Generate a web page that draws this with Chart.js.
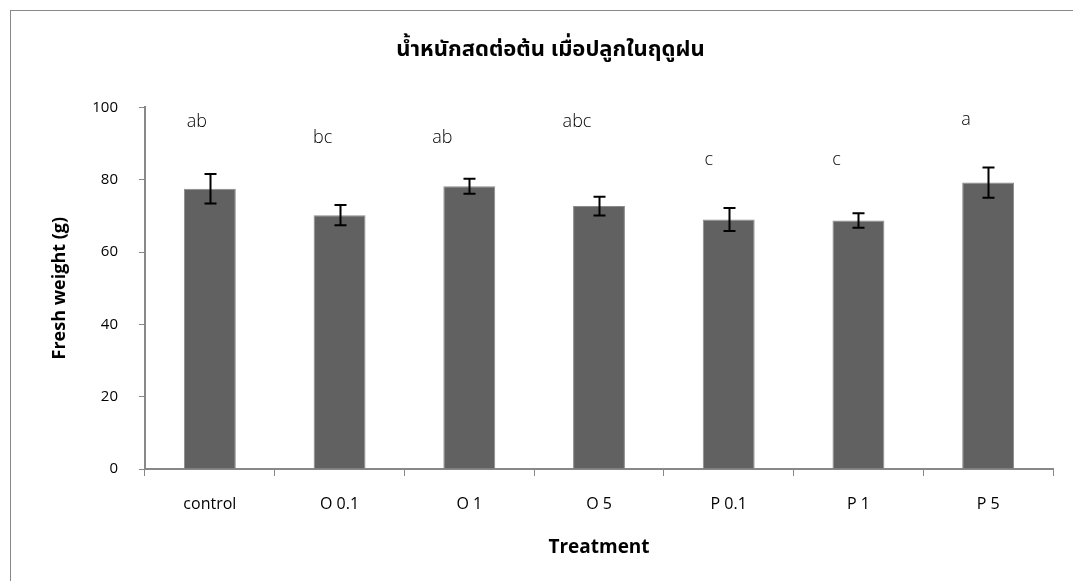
<!DOCTYPE html>
<html>
<head>
<meta charset="utf-8">
<script src="https://cdn.jsdelivr.net/npm/chart.js@4/dist/chart.umd.min.js"></script>
<style>
  html, body { margin: 0; padding: 0; background: #fff; }
  #wrap { position: relative; width: 1073px; height: 581px; overflow: hidden; }
  #frame { position: absolute; left: 10px; top: 10px; width: 1100px; height: 620px; border: 1px solid #888; box-sizing: border-box; }
  canvas { position: absolute; left: 0; top: 0; }
</style>
</head>
<body>
<div id="wrap">
  <div id="frame"></div>
  <canvas id="c" width="1073" height="581"></canvas>
</div>
<script>
// Fresh weight per plant, rainy-season planting
const treatments = ['control', 'O 0.1', 'O 1', 'O 5', 'P 0.1', 'P 1', 'P 5'];
const freshWeight = [77.5, 70.2, 78.2, 72.7, 69.0, 68.7, 79.2];
const stdError = [4.1, 2.8, 2.1, 2.6, 3.2, 2.0, 4.2];
const groupLetters = ['ab', 'bc', 'ab', 'abc', 'c', 'c', 'a'];
const yTicks = [0, 20, 40, 60, 80, 100];

const errorBars = {
  id: 'errorBars',
  afterDatasetsDraw(chart) {
    const ctx = chart.ctx;
    const meta = chart.getDatasetMeta(0);
    const y = chart.scales.y;
    ctx.save();
    ctx.strokeStyle = '#000';
    ctx.lineWidth = 2;
    meta.data.forEach((bar, i) => {
      const hi = y.getPixelForValue(freshWeight[i] + stdError[i]);
      const lo = y.getPixelForValue(freshWeight[i] - stdError[i]);
      const x = Math.round(bar.x) + 0.5;
      ctx.beginPath();
      ctx.moveTo(x, hi); ctx.lineTo(x, lo);
      ctx.moveTo(x - 6, hi); ctx.lineTo(x + 6, hi);
      ctx.moveTo(x - 6, lo); ctx.lineTo(x + 6, lo);
      ctx.stroke();
    });
    ctx.restore();
  }
};

// significance letters sit above each bar, nudged left of its centre
const letterMarks = {
  id: 'letterMarks',
  afterDatasetsDraw(chart, args, opts) {
    const ctx = chart.ctx;
    const meta = chart.getDatasetMeta(0);
    const y = chart.scales.y;
    ctx.save();
    ctx.fillStyle = '#000';
    ctx.font = '300 18px "Open Sans", sans-serif';
    ctx.textAlign = 'center';
    ctx.textBaseline = 'middle';
    meta.data.forEach((bar, i) => {
      const p = opts.place[i];
      ctx.fillText(groupLetters[i], bar.x + p.dx, y.getPixelForValue(p.level));
    });
    ctx.restore();
  }
};

new Chart(document.getElementById('c'), {
  type: 'bar',
  data: {
    labels: treatments,
    datasets: [{
      data: freshWeight,
      backgroundColor: '#616161',
      borderColor: '#8a8a8a',
      borderWidth: 1,
      barPercentage: 0.4,
      categoryPercentage: 1.0
    }]
  },
  options: {
    responsive: false,
    animation: false,
    devicePixelRatio: 1,
    layout: { padding: { left: 48, right: 20, top: 0, bottom: 0 } },
    plugins: {
      legend: { display: false },
      tooltip: { enabled: false },
      title: {
        display: true,
        text: 'น้ำหนักสดต่อต้น เมื่อปลูกในฤดูฝน',
        color: '#000',
        font: { family: 'Tahoma, "Noto Sans Thai", "Noto Sans", sans-serif', size: 22, weight: 'bold' },
        padding: { top: 38, bottom: 43 }
      },
      letterMarks: {
        place: [
          { dx: -13, level: 96 }, { dx: -17, level: 91.6 }, { dx: -27, level: 91.6 },
          { dx: -22, level: 96 }, { dx: -20, level: 85.6 }, { dx: -22, level: 85.6 },
          { dx: -22, level: 96.6 }
        ]
      }
    },
    scales: {
      x: {
        offset: true,
        grid: { display: true, drawOnChartArea: false, offset: true, tickLength: 7, color: '#888', lineWidth: 1 },
        border: { color: '#888', width: 2 },
        ticks: { color: '#000', font: { family: '"Open Sans", sans-serif', size: 16 }, padding: 19 },
        title: { display: true, text: 'Treatment', color: '#000', font: { family: '"Open Sans", sans-serif', size: 19, weight: 'bold' }, padding: { top: 0, bottom: 22 } },
        afterFit(s) { s.height = 112; }
      },
      y: {
        min: 0, max: 100,
        afterBuildTicks(s) { s.ticks = yTicks.map(v => ({ value: v })); },
        grid: { display: true, drawOnChartArea: false, tickLength: 6, color: '#888' },
        border: { color: '#888', width: 2 },
        ticks: { color: '#000', font: { family: '"Open Sans", sans-serif', size: 15 }, padding: 21 },
        title: { display: true, text: 'Fresh weight (g)', color: '#000', font: { family: '"Open Sans", sans-serif', size: 18, weight: 'bold' }, padding: { top: 1, bottom: 0 } },
        afterFit(s) { s.width = 97; }
      }
    }
  },
  plugins: [errorBars, letterMarks]
});
</script>
</body>
</html>
